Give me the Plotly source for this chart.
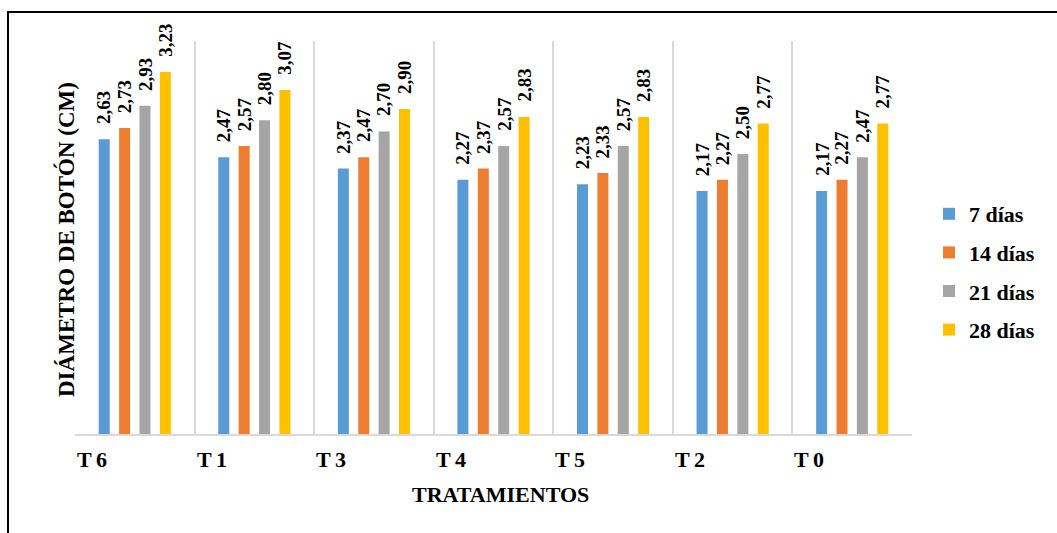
import plotly.graph_objects as go

# Tratamientos (orden del eje) y diámetro de botón (cm) por fecha de evaluación
tratamientos = ["T6", "T1", "T3", "T4", "T5", "T2", "T0"]
series = ["7 días", "14 días", "21 días", "28 días"]
dias_7 = [2.63, 2.47, 2.37, 2.27, 2.23, 2.17, 2.17]
dias_14 = [2.73, 2.57, 2.47, 2.37, 2.33, 2.27, 2.27]
dias_21 = [2.93, 2.80, 2.70, 2.57, 2.57, 2.50, 2.47]
dias_28 = [3.23, 3.07, 2.90, 2.83, 2.83, 2.77, 2.77]
valores = [dias_7, dias_14, dias_21, dias_28]
colores = ["#5B9BD5", "#ED7D31", "#A5A5A5", "#FFC000"]

FONT = "Liberation Serif, Times New Roman, serif"
W, H = 1057, 533
ML, MR, MT, MB = 75, 145, 41, 98
BARGAP, GROUPGAP = 0.318, 0.46

x_idx = list(range(len(tratamientos)))

fig = go.Figure()
for k, (nombre, vals, col) in enumerate(zip(series, valores, colores)):
    fig.add_trace(go.Bar(
        x=x_idx, y=vals, name=nombre, marker_color=col,
        marker_line_width=0, legendgroup=nombre,
    ))

# Etiquetas de valor rotadas sobre cada barra
slot = (1 - BARGAP) / len(series)
annotations = []
for k, vals in enumerate(valores):
    off = (k - (len(series) - 1) / 2) * slot
    for i, v in enumerate(vals):
        annotations.append(dict(
            x=i + off, y=v, xref="x", yref="y",
            text=f"{v:.2f}".replace(".", ","), textangle=-90,
            showarrow=False, xanchor="center", yanchor="bottom", yshift=13,
            font=dict(family=FONT, size=19, color="black", weight="bold"),
        ))

# Nombres de tratamiento alineados al inicio de cada categoría
plot_h = H - MT - MB
for i, t in enumerate(tratamientos):
    etiqueta = t[0] + "\u2009" + t[1:]
    annotations.append(dict(
        x=i - 0.5, y=-24 / plot_h, xref="x", yref="paper",
        text=f"<b>{etiqueta}</b>", showarrow=False, xanchor="left", yanchor="middle",
        font=dict(family=FONT, size=22, color="black"),
    ))

plot_w = W - ML - MR
annotations.append(dict(
    x=(500 - ML) / plot_w, y=-(494 - (H - MB)) / plot_h, xref="paper", yref="paper",
    text="<b>TRATAMIENTOS</b>", showarrow=False, xanchor="center", yanchor="middle",
    font=dict(family=FONT, size=22, color="black"),
))
annotations.append(dict(
    x=(66 - ML) / plot_w, y=((H - MB) - 240) / plot_h, xref="paper", yref="paper",
    text="<b>DIÁMETRO DE BOTÓN (CM)</b>", textangle=-90, showarrow=False,
    xanchor="center", yanchor="middle",
    font=dict(family=FONT, size=23, color="black"),
))

def px_x(p):
    return (p - ML) / plot_w

def px_y(p):
    return ((H - MB) - p) / plot_h

fig.update_layout(
    width=W, height=H,
    margin=dict(l=ML, r=MR, t=MT, b=MB, pad=0),
    paper_bgcolor="white", plot_bgcolor="white",
    barmode="group", bargap=BARGAP, bargroupgap=GROUPGAP,
    showlegend=True,
    legend=dict(
        x=px_x(929), y=px_y(193), xanchor="left", yanchor="top",
        font=dict(family=FONT, size=22, color="black", weight="bold"),
        tracegroupgap=7, itemwidth=30, bgcolor="rgba(0,0,0,0)",
    ),
    xaxis=dict(
        range=[-0.5, len(tratamientos) - 0.5],
        tickvals=[i - 0.5 for i in range(len(tratamientos) + 1)],
        showticklabels=False, ticks="",
        showgrid=True, gridcolor="#D9D9D9", gridwidth=2,
        zeroline=False, showline=False,
    ),
    yaxis=dict(
        range=[0, 3.505], showticklabels=False, ticks="",
        showgrid=False, zeroline=False, showline=False,
    ),
    annotations=annotations,
    shapes=[
        # línea base del eje de categorías
        dict(type="line", xref="paper", yref="paper", x0=0, x1=1, y0=0, y1=0,
             line=dict(color="#D9D9D9", width=2)),
        # marco del área del gráfico
        dict(type="rect", xref="paper", yref="paper",
             x0=px_x(8), x1=px_x(W + 10), y0=px_y(H + 10), y1=px_y(12),
             line=dict(color="black", width=2), fillcolor="rgba(0,0,0,0)",
             layer="above"),
    ],
)

fig.write_html("out.html")
